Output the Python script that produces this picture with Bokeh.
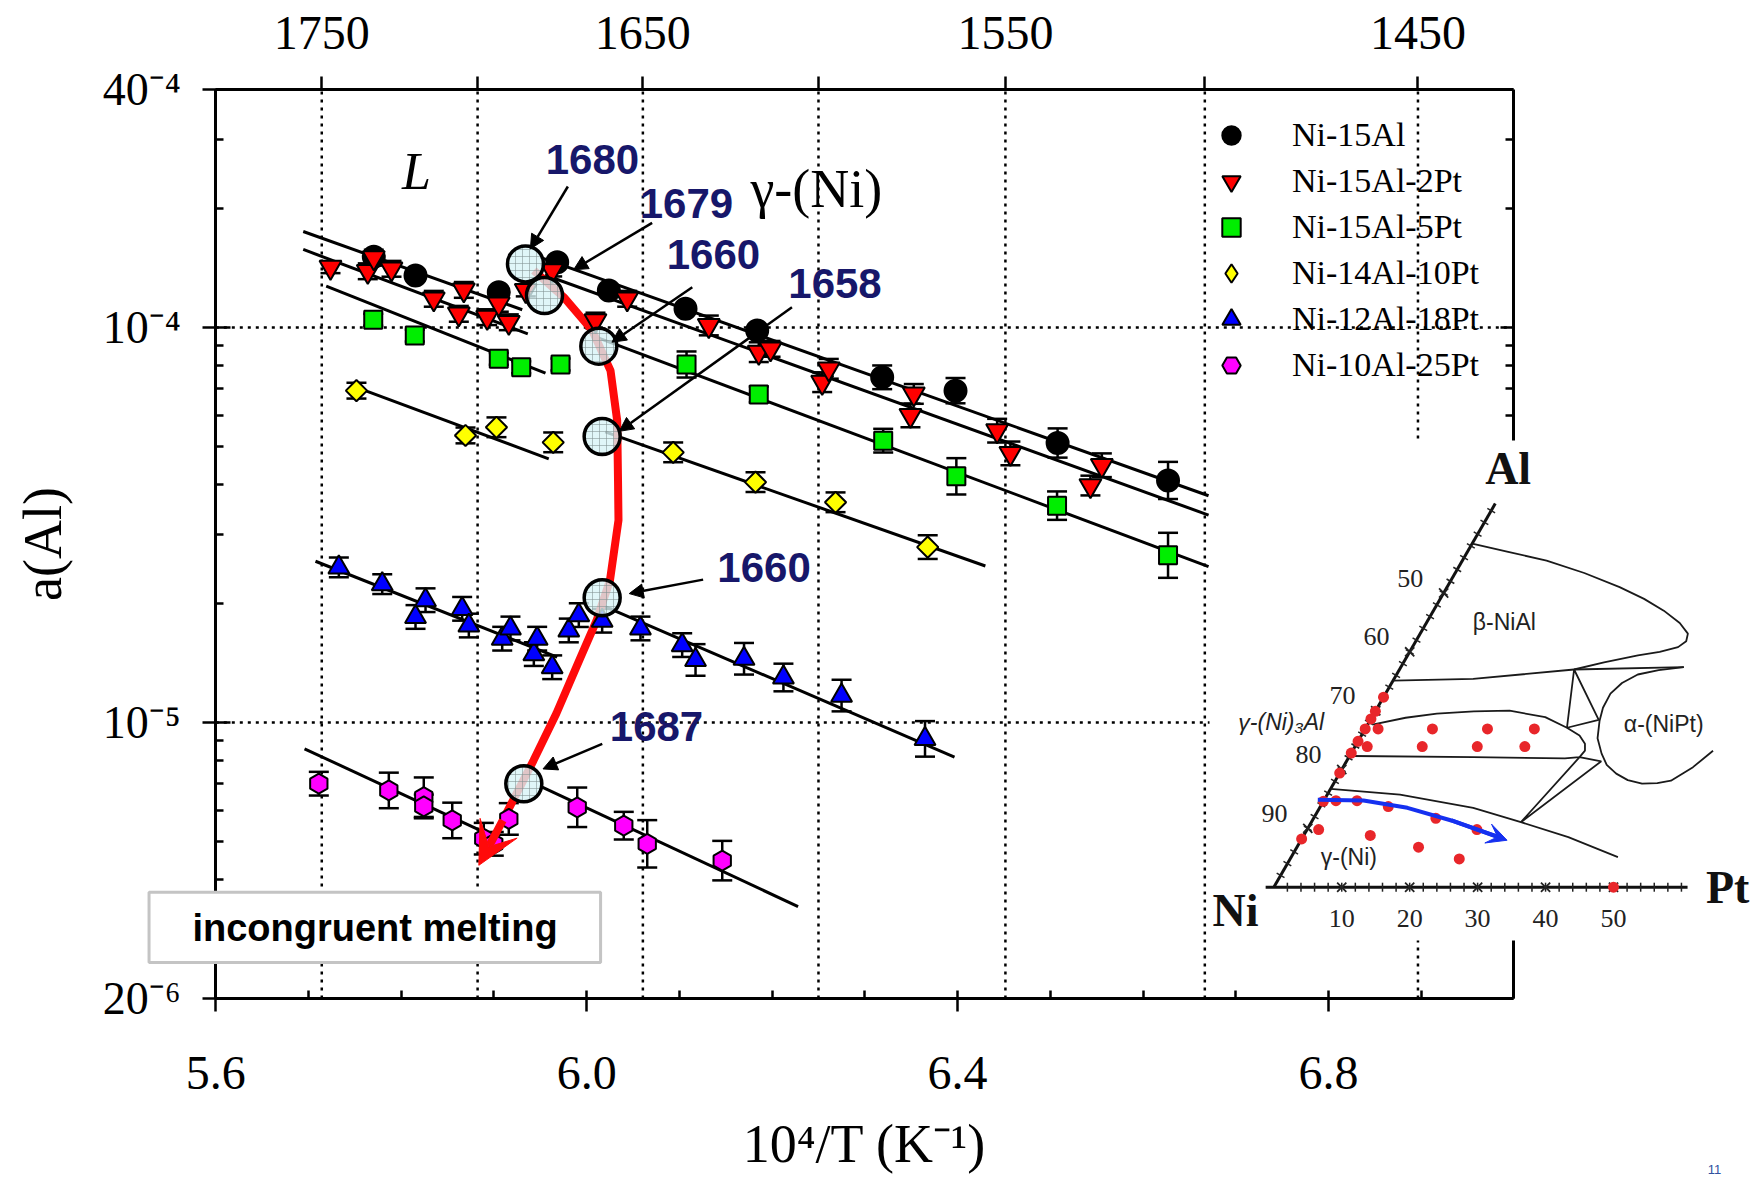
import math
from bokeh.plotting import figure
from bokeh.models import (Range1d, LinearAxis, LogAxis, FixedTicker, ColumnDataSource,
                          Whisker, TeeHead, Legend, LegendItem, Arrow, NormalHead,
                          VeeHead, LinearScale)
from bokeh.core.properties import value
from bokeh.embed import file_html
from bokeh.resources import INLINE

# ------------------------------------------------------------------ data
# x : 10^4/T (K^-1),  a : a(Al),  e : half height of error bar (log10 units)
ni15al_x = [5.7704, 5.8154, 5.9052, 5.9682, 6.0239, 6.1066, 6.1839, 6.3187, 6.3978, 6.5079, 6.6270]
ni15al_a = [1.51e-4, 1.354e-4, 1.228e-4, 1.463e-4, 1.241e-4, 1.115e-4, 9.83e-5, 7.48e-5, 6.92e-5, 5.10e-5, 4.10e-5]
ni15al_e = [0.012, 0.012, 0.012, 0.012, 0.012, 0.012, 0.012, 0.030, 0.032, 0.037, 0.047]

pt2_x = [5.7237, 5.7639, 5.7704, 5.7895, 5.8351, 5.8621, 5.8675, 5.8927, 5.9052, 5.9160, 5.9343,
         5.9628, 6.0095, 6.0437, 6.1317, 6.1856, 6.1983, 6.2540, 6.2611, 6.3492, 6.3528, 6.4427,
         6.4570, 6.5433, 6.5556]
pt2_a = [1.421e-4, 1.388e-4, 1.502e-4, 1.408e-4, 1.182e-4, 1.083e-4, 1.245e-4, 1.062e-4, 1.148e-4,
         1.031e-4, 1.241e-4, 1.394e-4, 1.041e-4, 1.182e-4, 1.012e-4, 8.66e-5, 8.83e-5, 7.27e-5,
         7.86e-5, 5.99e-5, 6.79e-5, 5.48e-5, 4.80e-5, 3.98e-5, 4.48e-5]
pt2_e = [0.015, 0.02, 0.02, 0.02, 0.02, 0.02, 0.02, 0.02, 0.02, 0.02, 0.015, 0.015, 0.02, 0.02,
         0.025, 0.025, 0.02, 0.025, 0.025, 0.03, 0.025, 0.03, 0.03, 0.025, 0.03]

pt5_x = [5.7698, 5.8146, 5.9052, 5.9294, 5.9718, 6.1077, 6.1856, 6.3198, 6.3987, 6.5073, 6.6270]
pt5_a = [1.046e-4, 9.54e-5, 8.33e-5, 7.93e-5, 8.06e-5, 8.06e-5, 6.77e-5, 5.17e-5, 4.20e-5, 3.54e-5, 2.65e-5]
pt5_e = [0.015, 0.015, 0.015, 0.015, 0.015, 0.033, 0.02, 0.03, 0.046, 0.036, 0.057]

pt10_x = [5.7517, 5.8693, 5.9027, 5.9639, 6.0933, 6.1821, 6.2684, 6.3678]
pt10_a = [6.92e-5, 5.33e-5, 5.59e-5, 5.12e-5, 4.83e-5, 4.06e-5, 3.61e-5, 2.78e-5]
pt10_e = [0.02, 0.02, 0.025, 0.025, 0.025, 0.025, 0.025, 0.03]

pt18_x = [5.7327, 5.7795, 5.8154, 5.8262, 5.8657, 5.8729, 5.9089, 5.9178, 5.9430, 5.9466, 5.9628,
          5.9807, 5.9915, 6.0167, 6.0580, 6.1030, 6.1174, 6.1697, 6.2122, 6.2749, 6.3649]
pt18_a = [2.47e-5, 2.24e-5, 1.85e-5, 2.04e-5, 1.94e-5, 1.76e-5, 1.63e-5, 1.73e-5, 1.49e-5, 1.63e-5,
          1.38e-5, 1.71e-5, 1.87e-5, 1.81e-5, 1.73e-5, 1.57e-5, 1.44e-5, 1.45e-5, 1.30e-5, 1.17e-5, 9.09e-6]
pt18_e = [0.025, 0.025, 0.03, 0.03, 0.03, 0.03, 0.03, 0.03, 0.03, 0.03, 0.03, 0.03, 0.03, 0.03,
          0.03, 0.03, 0.04, 0.04, 0.035, 0.04, 0.045]

pt25_x = [5.7111, 5.7866, 5.8243, 5.8243, 5.8550, 5.8890, 5.8998, 5.9160, 5.9898, 6.0400, 6.0653, 6.1462]
pt25_a = [7.0e-6, 6.73e-6, 6.47e-6, 6.13e-6, 5.65e-6, 5.08e-6, 4.93e-6, 5.70e-6, 6.10e-6, 5.48e-6, 4.93e-6, 4.47e-6]
pt25_e = [0.03, 0.045, 0.05, 0.03, 0.045, 0.04, 0.03, 0.04, 0.05, 0.035, 0.06, 0.05]

series_names = ["Ni-15Al", "Ni-15Al-2Pt", "Ni-15Al-5Pt", "Ni-14Al-10Pt", "Ni-12Al-18Pt", "Ni-10Al-25Pt"]
series_x = [ni15al_x, pt2_x, pt5_x, pt10_x, pt18_x, pt25_x]
series_a = [ni15al_a, pt2_a, pt5_a, pt10_a, pt18_a, pt25_a]
series_e = [ni15al_e, pt2_e, pt5_e, pt10_e, pt18_e, pt25_e]

# straight-line fits (liquid side and gamma side), endpoints
fit_x0 = [5.6943, 5.9500, 5.6943, 5.9550, 5.7191, 6.0131, 5.7561, 6.0200, 5.7075, 6.0167, 5.6957, 5.9520]
fit_a0 = [1.750e-4, 1.505e-4, 1.576e-4, 1.358e-4, 1.272e-4, 9.40e-5, 6.99e-5, 5.44e-5, 2.56e-5, 1.98e-5, 8.58e-6, 6.86e-6]
fit_x1 = [5.9305, 6.6707, 5.9365, 6.6707, 5.9556, 6.6707, 5.9591, 6.4300, 5.9682, 6.3967, 5.8927, 6.2280]
fit_a1 = [1.109e-4, 3.75e-5, 9.64e-5, 3.35e-5, 7.66e-5, 2.48e-5, 4.65e-5, 2.49e-5, 1.463e-5, 8.17e-6, 5.23e-6, 3.42e-6]

# incongruent melting trend (red curve) and its arrow tip
curve_x = [5.9430, 5.9753, 6.0060, 6.0257, 6.0329, 6.0338, 6.0343, 6.0251, 6.0106, 5.9922, 5.9673, 5.9426, 5.9095]
curve_a = [1.394e-4, 1.193e-4, 9.83e-5, 7.78e-5, 5.81e-5, 4.10e-5, 3.25e-5, 2.29e-5, 1.81e-5, 1.44e-5, 1.054e-5, 8.01e-6, 5.65e-6]
curve_tip_x = 5.8837
curve_tip_a = 4.35e-6

# melting points (K) marked by circles
melt_labels = ["1680", "1679", "1660", "1658", "1660", "1687"]
melt_x = [5.9340, 5.9545, 6.0131, 6.0167, 6.0167, 5.9322]
melt_a = [1.449e-4, 1.205e-4, 8.97e-5, 5.30e-5, 2.07e-5, 7.0e-6]
label_x = [6.0062, 6.1076, 6.1367, 6.2678, 6.1913, 6.0753]
label_a = [2.662e-4, 2.06e-4, 1.530e-4, 1.292e-4, 2.473e-5, 9.77e-6]
ptr_x0 = [5.9797, 6.0706, 6.1139, 6.2214, 6.1256, 6.0168]
ptr_a0 = [2.275e-4, 1.841e-4, 1.265e-4, 1.125e-4, 2.30e-5, 8.83e-6]
ptr_x1 = [5.9393, 5.9859, 6.0272, 6.0351, 6.0459, 5.9529]
ptr_a1 = [1.582e-4, 1.40e-4, 9.18e-5, 5.46e-5, 2.12e-5, 7.63e-6]

# axes
x_major = [5.6, 6.0, 6.4, 6.8]
x_major_labels = ["5.6", "6.0", "6.4", "6.8"]
x_minor = [5.7, 5.8, 5.9, 6.1, 6.2, 6.3, 6.5, 6.6, 6.7, 6.9, 7.0]
temps_K = [1750, 1700, 1650, 1600, 1550, 1500, 1450]
temps_labelled = [1750, 1650, 1550, 1450]
y_major = [2e-6, 1e-5, 1e-4, 4e-4]
y_major_labels = ["20⁻⁶", "10⁻⁵", "10⁻⁴", "40⁻⁴"]
y_minor = [3e-6, 4e-6, 5e-6, 6e-6, 7e-6, 8e-6, 9e-6,
           2e-5, 3e-5, 4e-5, 5e-5, 6e-5, 7e-5, 8e-5, 9e-5, 2e-4, 3e-4]
y_grid = [1e-4, 1e-5]

# inset: Ni-Al-Pt isothermal section (compositions in at.%: Pt, Al)
beta_pt = [0.0, 6.0, 12.4, 19.0, 25.4, 30.0, 33.9, 37.3, 39.4, 39.8, 39.1, 36.8, 33.9, 29.5, 25.7]
beta_al = [58.4, 57.0, 55.5, 53.4, 51.0, 49.0, 47.0, 44.9, 43.1, 41.8, 40.8, 40.0, 39.4, 38.2, 37.0]
gpb_pt = [0.0, 11.65, 25.7, 41.65]
gpb_al = [35.1, 35.4, 37.0, 37.4]
tie1_pt = [25.7, 29.6, 33.6, 25.7]
tie1_al = [37.0, 27.1, 28.45, 37.0]
gp_pt = [0.7, 5.0, 9.25, 14.5, 19.7, 25.5, 29.6, 32.1, 33.6, 34.2, 33.95, 31.9, 18.3, 0.45]
gp_al = [27.65, 28.8, 29.5, 29.9, 30.0, 28.9, 27.1, 25.8, 24.4, 23.2, 22.1, 21.9, 22.1, 22.3]
gam_pt = [0.0, 10.7, 22.6, 30.85, 39.1, 48.1]
gam_al = [16.7, 15.75, 13.5, 11.05, 8.5, 5.1]
tie2_pt = [33.95, 30.85, 37.5, 33.95]
tie2_al = [22.1, 11.05, 21.4, 22.1]
alpha_pt = [41.65, 38.2, 35.5, 33.9, 33.1, 33.2, 33.8, 35.0, 36.9, 38.6, 40.75, 43.0, 45.4, 47.6, 49.4, 51.5, 53.05]
alpha_al = [37.4, 36.9, 36.15, 34.7, 32.9, 30.5, 28.3, 25.3, 22.7, 20.8, 19.3, 18.2, 17.6, 17.7, 18.1, 20.4, 23.2]
alloy_pt = [0, 0, 0, 0, 0, 0, 0, 0, 0, 1.9, 1.8, 9.9, 18, 24.9, 9.9, 18, 25,
            1.8, 4.9, 10, 18, 25, 1.7, 9.8, 17.9, 24.9, 50]
alloy_al = [32.3, 29.9, 28.6, 26.9, 24.8, 22.8, 19.4, 14.6, 8.2, 26.9, 23.9, 26.9, 26.9, 26.9,
            23.9, 23.9, 23.9, 14.7, 14.7, 13.7, 11.7, 9.8, 9.8, 8.8, 6.8, 4.8, 0]
path_pt = [-0.95, 5.84, 12.92, 20.47, 28.88]
path_al = [14.85, 14.73, 13.49, 11.34, 8.5]
tern_ticks = [10, 20, 30, 40, 50]

# ------------------------------------------------------------------ layout constants
W, H = 1754, 1178
X56 = 215.3        # pixel of 10^4/T = 5.6
PXU = 927.2        # pixels per unit of 10^4/T
Y1E4 = 327.0       # pixel of a = 1e-4
PXD = 395.0        # pixels per decade
x_lo = 5.6 - X56 / PXU
x_hi = 5.6 + (W - X56) / PXU
y_hi = 10 ** (-4 + Y1E4 / PXD)
y_lo = 10 ** (-4 - (H - Y1E4) / PXD)

NI_X, NI_Y, S = 1273.3, 886.7, 6.794   # inset: Ni corner pixel, px per at.%
SQ3 = math.sqrt(3.0)


def tern(pt, al):
    return [p_ + a_ / 2.0 for p_, a_ in zip(pt, al)], [a_ * SQ3 / 2.0 for a_ in al]


p = figure(width=W, height=H, x_range=Range1d(x_lo, x_hi), y_range=Range1d(y_lo, y_hi),
           y_axis_type="log", x_axis_location=None, y_axis_location=None,
           toolbar_location=None, output_backend="svg", min_border=0)
p.outline_line_color = None
p.grid.visible = False
p.background_fill_color = "white"
p.border_fill_color = "white"

p.extra_x_ranges = {"tu": Range1d(-NI_X / S, (W - NI_X) / S)}
p.extra_y_ranges = {"tw": Range1d((NI_Y - H) / S, NI_Y / S)}
p.extra_y_scales = {"tw": LinearScale()}

SERIF = "Liberation Serif"
SANS = "Liberation Sans"


def style_axis(ax, lab_size="48px"):
    ax.axis_line_width = 3
    ax.major_tick_line_width = 2.5
    ax.minor_tick_line_width = 2.5
    ax.major_label_text_font = SERIF
    ax.major_label_text_font_size = lab_size
    ax.major_label_text_color = "black"
    ax.axis_label_text_font = SERIF
    ax.axis_label_text_font_size = "54px"
    ax.axis_label_text_font_style = "normal"
    ax.axis_label_text_color = "black"


# bottom axis
xb = LinearAxis(fixed_location=2e-6, bounds=(5.6, 7.0),
                ticker=FixedTicker(ticks=x_major, minor_ticks=x_minor),
                major_label_overrides=dict(zip(x_major, x_major_labels)),
                axis_label="10⁴/T (K⁻¹)")
style_axis(xb)
xb.major_tick_in, xb.major_tick_out = 8, 13
xb.minor_tick_in, xb.minor_tick_out = 8, 0
xb.major_label_standoff = 45
xb.axis_label_standoff = 22
p.add_layout(xb, "below")

# top axis (temperature)
t_ticks = [1e4 / t for t in temps_K]
xt = LinearAxis(fixed_location=4e-4, bounds=(5.6, 7.0),
                ticker=FixedTicker(ticks=t_ticks, minor_ticks=[]),
                major_label_overrides={1e4 / t: (str(t) if t in temps_labelled else "") for t in temps_K})
style_axis(xt)
xt.major_tick_in, xt.major_tick_out = 0, 13
xt.minor_tick_in, xt.minor_tick_out = 0, 0
xt.major_label_standoff = 28
p.add_layout(xt, "above")

# left axis
yl = LogAxis(fixed_location=5.6, bounds=(2e-6, 4e-4),
             ticker=FixedTicker(ticks=y_major, minor_ticks=y_minor),
             major_label_overrides=dict(zip(y_major, y_major_labels)),
             axis_label="a(Al)")
style_axis(yl, "46px")
yl.major_tick_in, yl.major_tick_out = 15, 13
yl.minor_tick_in, yl.minor_tick_out = 8, 0
yl.major_label_standoff = 22
yl.axis_label_standoff = 26
p.add_layout(yl, "left")

# right axis
yr = LogAxis(fixed_location=7.0, bounds=(2e-6, 4e-4),
             ticker=FixedTicker(ticks=y_major, minor_ticks=y_minor),
             major_label_overrides={t: "" for t in y_major})
style_axis(yr)
yr.major_tick_in, yr.major_tick_out = 13, 0
yr.minor_tick_in, yr.minor_tick_out = 8, 0
p.add_layout(yr, "right")

# dotted grid
gx = [1e4 / t for t in temps_K]
p.segment(x0=gx, y0=[2e-6] * len(gx), x1=gx, y1=[4e-4] * len(gx),
          line_color="black", line_width=2.5, line_dash="3 5")
p.segment(x0=[5.6] * len(y_grid), y0=y_grid, x1=[7.0] * len(y_grid), y1=y_grid,
          line_color="black", line_width=2.5, line_dash="3 5")

# fits
p.segment(x0=fit_x0, y0=fit_a0, x1=fit_x1, y1=fit_a1, line_color="black", line_width=3)

# red trend curve
p.line(curve_x, curve_a, line_color="#ff0a0a", line_width=8)
p.add_layout(Arrow(x_start=curve_x[-1], y_start=curve_a[-1], x_end=curve_tip_x, y_end=curve_tip_a,
                   line_color="#ff0a0a", line_width=8,
                   end=VeeHead(size=42, fill_color="#ff0a0a", line_color="#ff0a0a", line_width=1)))

# data series
styles = [
    dict(marker="circle", fill_color="black", size=22, angle=0.0, legend_marker="circle"),
    dict(marker="inverted_triangle", fill_color="#ff0000", size=22, angle=0.0, legend_marker="inverted_triangle"),
    dict(marker="square", fill_color="#00ee00", size=18, angle=0.0, legend_marker="square"),
    dict(marker="square", fill_color="#ffff00", size=15, angle=math.pi / 4, legend_marker="diamond"),
    dict(marker="triangle", fill_color="#0000ff", size=21, angle=0.0, legend_marker="triangle"),
    dict(marker="hex", fill_color="#ff00ff", size=20, angle=math.pi / 2, legend_marker="hex"),
]
items = []
for name, xs, as_, es, st in zip(series_names, series_x, series_a, series_e, styles):
    src = ColumnDataSource(dict(x=xs, a=as_,
                                up=[a_ * 10 ** e_ for a_, e_ in zip(as_, es)],
                                lo=[a_ / 10 ** e_ for a_, e_ in zip(as_, es)]))
    p.add_layout(Whisker(source=src, base="x", upper="up", lower="lo", dimension="height",
                         line_color="black", line_width=2.5,
                         upper_head=TeeHead(size=20, line_width=2.5, line_color="black"),
                         lower_head=TeeHead(size=20, line_width=2.5, line_color="black")))
    r = p.scatter("x", "a", source=src, marker=st["marker"], size=st["size"], angle=st["angle"],
                  fill_color=st["fill_color"], line_color="black", line_width=2)
    if st["legend_marker"] != st["marker"] or st["angle"] != 0.0:
        # legend swatch drawn with the marker shape of the original key
        r = p.scatter(x=[x_lo - 1.0], y=[1e-4], marker=st["legend_marker"], size=st["size"],
                      fill_color=st["fill_color"], line_color="black", line_width=2)
    items.append(LegendItem(label=name, renderers=[r]))

legend = Legend(items=items, location=(1206, 790), orientation="vertical",
                label_text_font=SERIF, label_text_font_size="34px", label_text_color="black",
                glyph_width=50, glyph_height=46, label_height=46, spacing=0,
                padding=0, margin=0, label_standoff=36,
                border_line_color=None, background_fill_alpha=0)
p.add_layout(legend)

# melting point circles, pointers and labels
p.scatter(melt_x, melt_a, marker="circle", size=36, fill_color="#d8f4f6", fill_alpha=0.8,
          hatch_pattern="+", hatch_color="#7f9090", hatch_alpha=0.55, hatch_scale=7,
          line_color="black", line_width=3.5)
ptr_src = ColumnDataSource(dict(x0=ptr_x0, y0=ptr_a0, x1=ptr_x1, y1=ptr_a1))
p.add_layout(Arrow(source=ptr_src, x_start="x0", y_start="y0", x_end="x1", y_end="y1",
                   line_color="black", line_width=2.5,
                   end=NormalHead(size=14, fill_color="black", line_color="black", line_width=1)))
p.text(label_x, label_a, text=melt_labels, text_font=value(SANS), text_font_style="bold",
       text_font_size="42px", text_color="#17176a", text_align="center", text_baseline="middle")

# region labels
p.text([5.8165], [2.48e-4], text=["L"], text_font=value(SERIF), text_font_style="italic",
       text_font_size="52px", text_color="black", text_align="center", text_baseline="middle")
p.text([6.2477], [2.248e-4], text=["γ-(Ni)"], text_font=value(SERIF),
       text_font_size="54px", text_color="black", text_align="center", text_baseline="middle")

# incongruent melting box
p.quad(left=[5.528], right=[6.015], bottom=[2.47e-6], top=[3.72e-6], fill_color="white",
       line_color="#c4c4c4", line_width=3, level="overlay")
p.text([5.7717], [3.02e-6], text=["incongruent melting"], text_font=value(SANS),
       text_font_style="bold", text_font_size="38px", text_color="black",
       text_align="center", text_baseline="middle", level="overlay")

# page number
p.text([7.2164], [7.38e-7], text=["11"], text_font=value(SANS), text_font_size="13px",
       text_color="#3050a0", text_align="center", text_baseline="middle")

# ------------------------------------------------------------------ inset (ternary section)
TX = dict(x_range_name="tu", y_range_name="tw", level="overlay")
p.quad(left=[-9.46], right=[71.0], bottom=[-7.85], top=[65.75], fill_color="white",
       line_color=None, **TX)
# axes of the triangle
ax_u, ax_w = tern([0, 0], [0, 65.2])
p.line(ax_u, ax_w, line_color="#111111", line_width=3, **TX)
p.line([-1.2, 60.9], [0, 0], line_color="#111111", line_width=3, **TX)
mt = list(range(2, 61, 2))
p.scatter(mt, [0] * len(mt), marker="dash", angle=math.pi / 2, size=9, line_color="#222222",
          line_width=1.5, **TX)
mu, mw = tern([0] * 32, list(range(2, 65, 2)))
p.scatter(mu, mw, marker="dash", angle=math.radians(150), size=9, line_color="#222222",
          line_width=1.5, **TX)
p.scatter(tern_ticks, [0] * 5, marker="x", size=13, line_color="#222222", line_width=1.8, **TX)
ju, jw = tern([0] * 5, tern_ticks)
p.scatter(ju, jw, marker="x", size=13, line_color="#222222", line_width=1.8, **TX)
p.text(tern_ticks, [-4.6] * 5, text=[str(t) for t in tern_ticks], text_font=value(SERIF),
       text_font_size="26px", text_color="#222222", text_align="center", text_baseline="middle", **TX)
p.text([u - 4.9 for u in ju], [w + 2.2 for w in jw], text=[str(100 - t) for t in tern_ticks],
       text_font=value(SERIF), text_font_size="26px", text_color="#222222",
       text_align="center", text_baseline="middle", **TX)

# phase boundaries
for bpt, bal in [(beta_pt, beta_al), (gpb_pt, gpb_al), (tie1_pt, tie1_al), (gp_pt, gp_al),
                 (gam_pt, gam_al), (tie2_pt, tie2_al), (alpha_pt, alpha_al)]:
    bu, bw = tern(bpt, bal)
    p.line(bu, bw, line_color="#1a1a1a", line_width=1.8, **TX)

# alloys
du, dw = tern(alloy_pt, alloy_al)
p.scatter(du, dw, marker="circle", size=11, fill_color="#e8262a", line_color=None, **TX)

# solubility trend arrow
pu, pw = tern(path_pt, path_al)
p.line(pu, pw, line_color="#1530f0", line_width=4, **TX)
p.add_layout(Arrow(x_start=pu[-2], y_start=pw[-2], x_end=pu[-1] + 1.2, y_end=pw[-1] - 0.45,
                   line_color="#1530f0", line_width=4, x_range_name="tu", y_range_name="tw",
                   level="overlay",
                   end=VeeHead(size=20, fill_color="#1530f0", line_color="#1530f0", line_width=1)))

# labels in the inset
p.text([34.49, -5.65, 66.81], [61.58, -3.43, 0.0], text=["Al", "Ni", "Pt"], text_font=value(SERIF),
       text_font_style="bold", text_font_size="46px", text_color="#111111",
       text_align="center", text_baseline="middle", **TX)
p.text([33.94, 57.39, 11.05], [39.0, 24.05, 4.42], text=["β-NiAl", "α-(NiPt)", "γ-(Ni)"],
       text_font=value(SANS), text_font_size="23px", text_color="#222222",
       text_align="center", text_baseline="middle", **TX)
p.text([1.09], [24.29], text=["γ-(Ni)₃Al"], text_font=value(SANS), text_font_style="italic",
       text_font_size="23px", text_color="#222222", text_align="center", text_baseline="middle", **TX)

open("out.html", "w").write(file_html(p, INLINE))
